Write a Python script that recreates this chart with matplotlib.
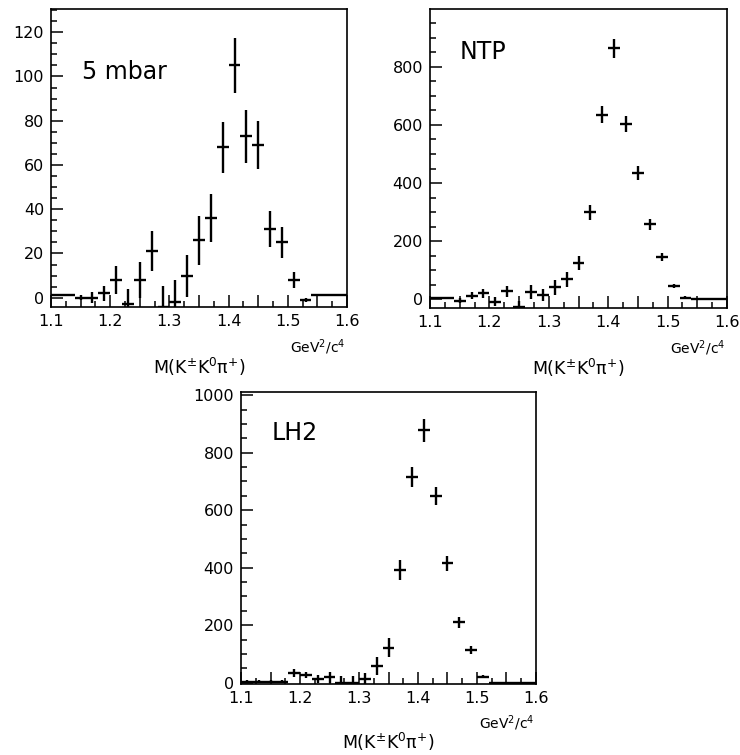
import matplotlib
matplotlib.use("Agg")
import matplotlib.pyplot as plt
from matplotlib.ticker import MultipleLocator, FuncFormatter

# Invariant mass bin centres (bin width 0.02 GeV)
mass = [1.11, 1.13, 1.15, 1.17, 1.19, 1.21, 1.23, 1.25, 1.27, 1.29,
        1.31, 1.33, 1.35, 1.37, 1.39, 1.41, 1.43, 1.45, 1.47, 1.49,
        1.51, 1.53, 1.55, 1.57, 1.59]
half_width = 0.01

# 5 mbar target
counts_5mbar = [1, 1, 0, 0, 2, 8, -3, 8, 21, -4,
                -2, 10, 26, 36, 68, 105, 73, 69, 31, 25,
                8, -1, 1, 1, 1]
err_5mbar = [0, 0, 1, 2.5, 3.5, 6.5, 7, 8, 9, 9.5,
             10, 9.5, 11, 11, 11.5, 12.5, 12, 11, 8, 7,
             3.5, 1, 0, 0, 0]

# NTP target
counts_ntp = [3, 3, -5, 13, 21, -8, 27, -25, 25, 15,
              41, 69, 125, 300, 635, 864, 603, 434, 258, 147,
              46, 6, 1, 1, 1]
err_ntp = [0, 0, 8, 12, 15, 16, 20, 20, 24, 22,
           25, 25, 25, 26, 30, 32, 28, 24, 19, 14,
           8, 4, 0, 0, 0]

# Liquid hydrogen target
counts_lh2 = [4, 4, 4, 4, 35, 27, 12, 19, 0, 0,
              12, 58, 122, 392, 716, 878, 649, 415, 210, 114,
              21, 0, 0, 0, 0]
err_lh2 = [4, 4, 4, 4, 14, 12, 14, 20, 25, 25,
           23, 31, 32, 36, 35, 39, 32, 26, 20, 13,
           5, 0, 0, 0, 0]

x_label = "M(K$^{\\pm}$K$^{0}$π$^{+}$)"
unit_label = r"GeV$^{2}$/c$^{4}$"

plt.rcParams["font.family"] = ["DejaVu Sans"]

fig = plt.figure(figsize=(7.4, 7.55), dpi=100)


def xfmt(v, pos):
    r = round(v * 10)
    if abs(v * 10 - r) < 1e-6:
        return f"{v:.1f}"
    return ""


def panel(rect, counts, errs, ylim, ymajor, yminor, tag, tag_pos, tag_size):
    ax = fig.add_axes(rect)
    ax.errorbar(mass, counts, yerr=errs, xerr=half_width, fmt="none",
                ecolor="black", elinewidth=1.7, capsize=0)
    ax.set_xlim(1.1, 1.6)
    ax.set_ylim(*ylim)
    ax.xaxis.set_major_locator(MultipleLocator(0.05))
    ax.xaxis.set_minor_locator(MultipleLocator(0.025))
    ax.xaxis.set_major_formatter(FuncFormatter(xfmt))
    ax.yaxis.set_major_locator(MultipleLocator(ymajor))
    ax.yaxis.set_minor_locator(MultipleLocator(yminor))
    ax.tick_params(which="both", direction="in", top=False, right=False,
                   width=1.1, labelsize=11.5, pad=5)
    ax.tick_params(which="major", length=8.5)
    ax.tick_params(which="minor", length=4.3)
    for s in ax.spines.values():
        s.set_linewidth(1.2)
    ax.text(tag_pos[0], tag_pos[1], tag, transform=ax.transAxes,
            fontsize=tag_size, ha="left", va="center")
    return ax


ax1 = panel([0.0689, 0.5934, 0.4, 0.3947], counts_5mbar, err_5mbar,
            (-4.2, 130.5), 20, 5, "5 mbar", (0.105, 0.79), 17)
ax2 = panel([0.5811, 0.592, 0.4014, 0.3957], counts_ntp, err_ntp,
            (-30, 998), 200, 50, "NTP", (0.10, 0.856), 17)
ax3 = panel([0.3257, 0.094, 0.3986, 0.3863], counts_lh2, err_lh2,
            (-4.5, 1010), 200, 50, "LH2", (0.105, 0.86), 17)

# Axis titles: unit on the right, mass expression below
for ax in (ax1, ax2, ax3):
    ax.text(0.90, -0.135, unit_label, transform=ax.transAxes,
            fontsize=10, ha="center", va="center")
    ax.text(0.50, -0.20, x_label, transform=ax.transAxes,
            fontsize=12.5, ha="center", va="center")

fig.savefig("out.png", dpi=100, facecolor="white")
